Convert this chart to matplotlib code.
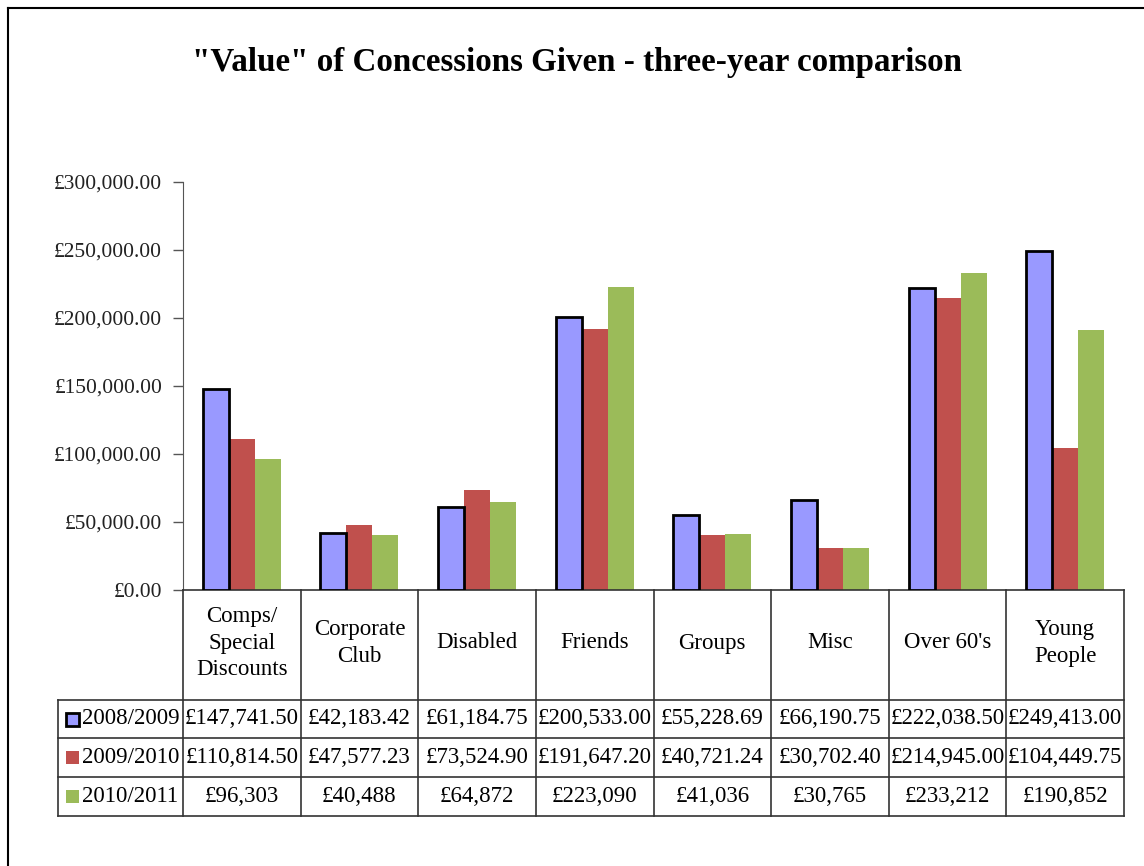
import matplotlib.pyplot as plt
from matplotlib.lines import Line2D
from matplotlib.patches import Rectangle
from matplotlib.ticker import FuncFormatter

# Data
categories = ['Comps/\nSpecial\nDiscounts', 'Corporate\nClub', 'Disabled', 'Friends',
              'Groups', 'Misc', "Over 60's", 'Young\nPeople']
series_names = ['2008/2009', '2009/2010', '2010/2011']
v_2008 = [147741.50, 42183.42, 61184.75, 200533.00, 55228.69, 66190.75, 222038.50, 249413.00]
v_2009 = [110814.50, 47577.23, 73524.90, 191647.20, 40721.24, 30702.40, 214945.00, 104449.75]
v_2010 = [96303, 40488, 64872, 223090, 41036, 30765, 233212, 190852]
series = [v_2008, v_2009, v_2010]
colors = ['#9999FF', '#C0504D', '#9BBB59']
cell_fmt = ['£{:,.2f}', '£{:,.2f}', '£{:,.0f}']

plt.rcParams['font.family'] = ['Liberation Serif', 'DejaVu Serif']

W, H = 1144, 866
fig = plt.figure(figsize=(W / 100, H / 100), dpi=100)

# chart border (left and top)
fig.add_artist(Line2D([8 / W, 8 / W], [0, 1 - 8 / H], color='black', lw=1.5))
fig.add_artist(Line2D([8 / W, 1], [1 - 8 / H, 1 - 8 / H], color='black', lw=1.5))

fig.text(577 / W, 1 - 63 / H, '"Value" of Concessions Given - three-year comparison',
         ha='center', va='center', fontsize=23.8, fontweight='bold')

x0, x1, y0, ytop = 183, 1124, 590, 182
ax = fig.add_axes([x0 / W, 1 - y0 / H, (x1 - x0) / W, (y0 - ytop) / H])
n = len(categories)
bw = 0.221
for i, (vals, c) in enumerate(zip(series, colors)):
    xs = [k + (i - 1) * bw for k in range(n)]
    if i == 0:
        ax.bar(xs, vals, width=bw, color=c, edgecolor='black', linewidth=2, zorder=3)
    else:
        ax.bar(xs, vals, width=bw, color=c, linewidth=0, zorder=2)

ax.set_xlim(-0.5, n - 0.5)
ax.set_ylim(0, 300000)
ax.set_yticks(range(0, 300001, 50000))
ax.yaxis.set_major_formatter(FuncFormatter(lambda v, p: '£{:,.2f}'.format(v)))
ax.tick_params(axis='y', length=7, width=1, color='#555555', labelsize=15.5,
               labelcolor='#222222', pad=8)
ax.set_xticks([])
for s in ['top', 'right']:
    ax.spines[s].set_visible(False)
ax.spines['left'].set_color('#555555')
ax.spines['bottom'].set_color('#333333')
ax.spines['bottom'].set_linewidth(1.2)

# data table below the chart
tx0, ty1 = 58, 816
tax = fig.add_axes([tx0 / W, 1 - ty1 / H, (x1 - tx0) / W, (ty1 - y0) / H])
tax.set_xlim(tx0, x1)
tax.set_ylim(ty1, y0)
tax.axis('off')
lc = '#333333'
cw = (x1 - x0) / n
rows = [700, 738, 777, 816]
for k in range(n + 1):
    tax.plot([x0 + k * cw] * 2, [y0, ty1], color=lc, lw=1.2, clip_on=False)
tax.plot([tx0, tx0], [rows[0], ty1], color=lc, lw=1.2, clip_on=False)
for r in rows:
    tax.plot([tx0, x1], [r, r], color=lc, lw=1.2, clip_on=False)

fs = 16.5
for k, cat in enumerate(categories):
    tax.text(x0 + (k + 0.5) * cw, 643, cat, ha='center', va='center',
             fontsize=fs, linespacing=1.35)

for i, name in enumerate(series_names):
    yc = (rows[i] + rows[i + 1]) / 2
    if i == 0:
        tax.add_patch(Rectangle((66, yc - 6.5), 13, 13, facecolor=colors[i],
                                edgecolor='black', lw=2, clip_on=False))
    else:
        tax.add_patch(Rectangle((66, yc - 6.5), 13, 13, facecolor=colors[i],
                                edgecolor='none', clip_on=False))
    tax.text(82, yc, name, ha='left', va='center', fontsize=fs)
    for k, v in enumerate(series[i]):
        tax.text(x0 + (k + 0.5) * cw, yc, cell_fmt[i].format(v), ha='center', va='center',
                 fontsize=fs)

fig.savefig('out.png', dpi=100)
